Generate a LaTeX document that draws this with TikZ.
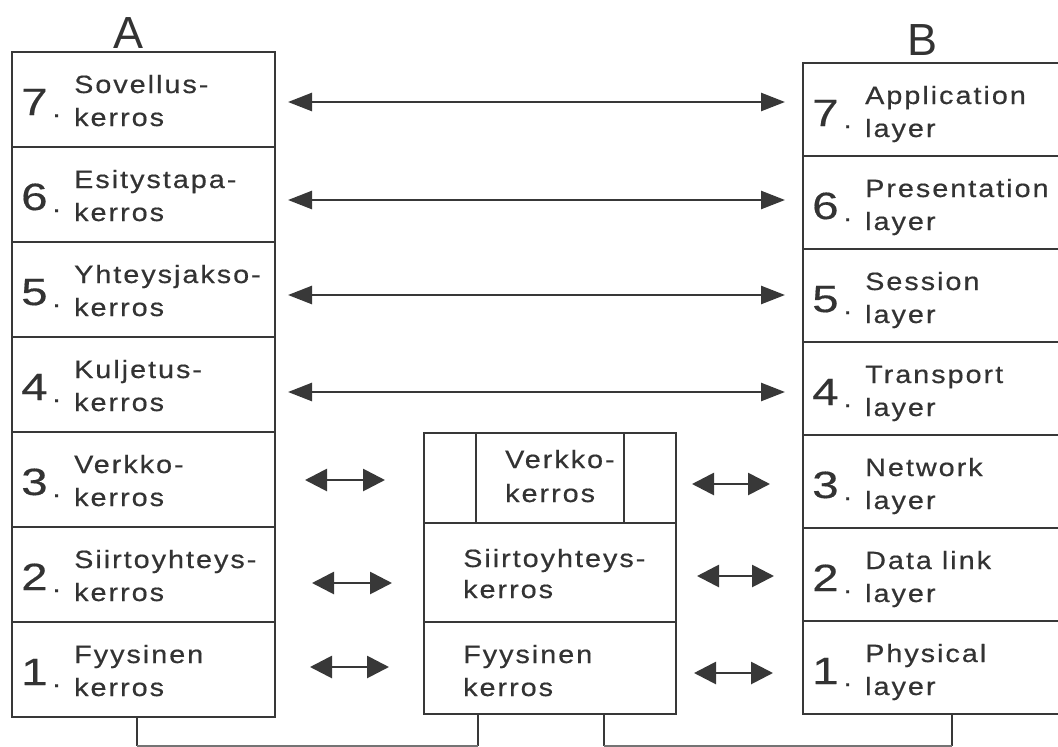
\documentclass[tikz,border=0pt]{standalone}
\usepackage{fontspec}
\setmainfont{Liberation Sans}
\newfontfamily\labfont[FakeStretch=1.15,LetterSpace=8,FakeBold=0.5]{Liberation Sans}
\newfontfamily\numfont[FakeStretch=1.25,FakeBold=0.4]{Liberation Sans}
\newfontfamily\headfont{Liberation Sans}
\usetikzlibrary{arrows.meta}
\definecolor{ink}{HTML}{333333}
\definecolor{lineink}{HTML}{383838}
\tikzset{
  rowbox/.style={draw=lineink, line width=2.8pt, anchor=north west, inner sep=0pt, outer sep=0pt},
  midbox/.style={draw=lineink, line width=1.8pt, anchor=north west, inner sep=0pt, outer sep=0pt},
  labtext/.style={anchor=base west, inner sep=0pt, text=ink, font=\labfont\fontsize{25pt}{25pt}\selectfont},
  numtext/.style={anchor=base west, inner sep=0pt, text=ink, font=\numfont\fontsize{38pt}{38pt}\selectfont},
  headtext/.style={anchor=base, inner sep=0pt, text=ink, font=\headfont\fontsize{45pt}{45pt}\selectfont},
  longarr/.style={draw=lineink, line width=2.6pt, {Triangle[length=24pt,width=18pt]}-{Triangle[length=24pt,width=18pt]}},
  shortarr/.style={draw=lineink, line width=2.8pt, {Triangle[length=22pt,width=22pt]}-{Triangle[length=22pt,width=22pt]}},
  stubline/.style={draw=lineink, line width=2.6pt},
  baseline/.style={draw=lineink!70, line width=1.4pt}
}
% #1 name, #2 left x, #3 top y, #4 width, #5 height, #6 number, #7 line 1, #8 line 2
\newcommand\osirow[8]{%
  \node[rowbox, minimum width=#4pt, minimum height=#5pt] (#1) at (#2,#3) {};
  \node[numtext] (#1-n) at (#2+9,#3+63) {#6\hspace{5pt}\raisebox{-2pt}{\labfont\fontsize{25pt}{25pt}\selectfont.}};
  \node[labtext] (#1-a) at (#2+62,#3+41) {#7};
  \node[labtext] (#1-b) at (#2+62,#3+74) {#8};
}
\begin{document}
\begin{tikzpicture}[x=1pt,y=-1pt]
\useasboundingbox (0,0) rectangle (1058,747);
\clip (0,0) rectangle (1058,747);
\fill[white] (0,0) rectangle (1058,747);

% headings
\node[headtext] (hA) at (129,48) {A};
\node[headtext] (hB) at (922,55) {B};

% stack A
\osirow{a7}{12}{52}{263}{95}{7}{Sovellus-}{kerros}
\osirow{a6}{12}{147}{263}{95}{6}{Esitystapa-}{kerros}
\osirow{a5}{12}{242}{263}{95}{5}{Yhteysjakso-}{kerros}
\osirow{a4}{12}{337}{263}{95}{4}{Kuljetus-}{kerros}
\osirow{a3}{12}{432}{263}{95}{3}{Verkko-}{kerros}
\osirow{a2}{12}{527}{263}{95}{2}{Siirtoyhteys-}{kerros}
\osirow{a1}{12}{622}{263}{95}{1}{Fyysinen}{kerros}

% stack B
\osirow{b7}{803}{63}{300}{93}{7}{Application}{layer}
\osirow{b6}{803}{156}{300}{93}{6}{Presentation}{layer}
\osirow{b5}{803}{249}{300}{93}{5}{Session}{layer}
\osirow{b4}{803}{342}{300}{93}{4}{Transport}{layer}
\osirow{b3}{803}{435}{300}{93}{3}{Network}{layer}
\osirow{b2}{803}{528}{300}{93}{2}{Data link}{layer}
\osirow{b1}{803}{621}{300}{93}{1}{Physical}{layer}

% intermediate node
\node[midbox, minimum width=252pt, minimum height=90pt] (m3) at (424,433) {};
\node[midbox, minimum width=252pt, minimum height=99pt] (m2) at (424,523) {};
\node[midbox, minimum width=252pt, minimum height=92pt] (m1) at (424,622) {};
\draw[lineink, line width=2.6pt] ([xshift=52pt]m3.north west) -- ([xshift=52pt]m3.south west);
\draw[lineink, line width=2.6pt] ([xshift=-52pt]m3.north east) -- ([xshift=-52pt]m3.south east);
\draw[lineink, line width=2.8pt] (m3.south west) -- (m3.south east);
\draw[lineink, line width=2.8pt] (m2.south west) -- (m2.south east);
\node[labtext] (m3-a) at (505,468) {Verkko-};
\node[labtext] (m3-b) at (505,502) {kerros};
\node[labtext] (m2-a) at (463,567) {Siirtoyhteys-};
\node[labtext] (m2-b) at (463,598) {kerros};
\node[labtext] (m1-a) at (463,663) {Fyysinen};
\node[labtext] (m1-b) at (463,696) {kerros};

% long arrows (peer protocols, layers 7-4)
\coordinate (l7a) at (288,102); \coordinate (l7b) at (785,102);
\coordinate (l6a) at (288,200); \coordinate (l6b) at (785,200);
\coordinate (l5a) at (288,295); \coordinate (l5b) at (785,295);
\coordinate (l4a) at (288,392); \coordinate (l4b) at (785,392);
\draw[longarr] (l7a) -- (l7b);
\draw[longarr] (l6a) -- (l6b);
\draw[longarr] (l5a) -- (l5b);
\draw[longarr] (l4a) -- (l4b);

% short arrows (layers 3-1)
\coordinate (s3a) at (305,480); \coordinate (s3b) at (385,480);
\coordinate (s2a) at (312,583); \coordinate (s2b) at (392,583);
\coordinate (s1a) at (310,667); \coordinate (s1b) at (389,667);
\coordinate (t3a) at (692,484); \coordinate (t3b) at (770,484);
\coordinate (t2a) at (697,576); \coordinate (t2b) at (774,576);
\coordinate (t1a) at (694,673); \coordinate (t1b) at (773,673);
\draw[shortarr] (s3a) -- (s3b);
\draw[shortarr] (s2a) -- (s2b);
\draw[shortarr] (s1a) -- (s1b);
\draw[shortarr] (t3a) -- (t3b);
\draw[shortarr] (t2a) -- (t2b);
\draw[shortarr] (t1a) -- (t1b);

% physical medium connections at the bottom
\coordinate (ba) at (137,746);
\coordinate (bm1) at (478,746);
\coordinate (bm2) at (604,746);
\coordinate (bb) at (952,746);
\draw[stubline] (ba |- a1.south) -- (ba);
\draw[stubline] (bm1 |- m1.south) -- (bm1);
\draw[stubline] (bm2 |- m1.south) -- (bm2);
\draw[stubline] (bb |- b1.south) -- (bb);
\draw[baseline] (ba) -- (bm1);
\draw[baseline] (bm2) -- (bb);
\end{tikzpicture}
\end{document}
